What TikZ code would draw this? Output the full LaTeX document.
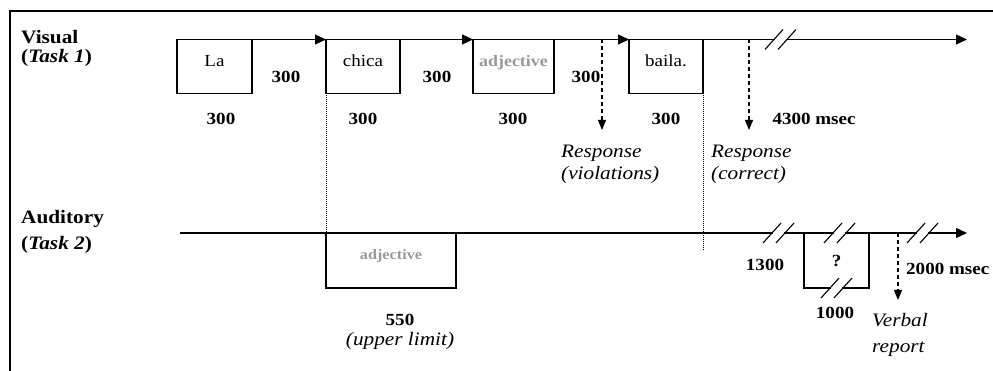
\documentclass[tikz,border=0pt]{standalone}
\usepackage{fontspec}
\setmainfont{Liberation Serif}[FakeStretch=1.12]
\usetikzlibrary{positioning, arrows.meta, calc}
\definecolor{stimgray}{gray}{0.6}
% double slash on a time line
\newcommand{\tcut}[1]{%
  \fill[white] ($(#1)+(-6,-2.5)$) rectangle ($(#1)+(5,2.5)$);
  \draw[cut] ($(#1)+(-16,10)$) -- ($(#1)+(2,-10)$);
  \draw[cut] ($(#1)+(-3,10)$) -- ($(#1)+(15,-10)$);}

\begin{document}
\begin{tikzpicture}[
    x=1pt, y=-1pt,
    stim/.style={draw, line width=1.2pt, inner sep=0pt, outer sep=0pt, anchor=north west, minimum height=54pt, font=\fontsize{17}{19}\selectfont},
    vstim/.style={stim, text height=11pt, text depth=11pt},
    gstim/.style={font=\bfseries\fontsize{16}{18}\selectfont, text=stimgray},
    ms/.style={inner sep=0pt, anchor=base, font=\bfseries\fontsize{17}{19}\selectfont},
    resp/.style={inner sep=0pt, anchor=base west, align=left, font=\itshape\fontsize{19}{22}\selectfont},
    task/.style={inner sep=0pt, anchor=base west, align=left, font=\bfseries\fontsize{19}{19}\selectfont},
    tarrow/.style={line width=1.2pt, -{Triangle[length=11pt, width=10pt]}},
    respar/.style={line width=1.2pt, dash pattern=on 4pt off 3pt, -{Triangle[length=10pt, width=8pt]}},
    sync/.style={line width=0.7pt, dash pattern=on 1pt off 1pt},
    cut/.style={line width=1.1pt}
]
\useasboundingbox (0,0) rectangle (993,371);
\draw[line width=2pt] (10,371) -- (10,11) -- (993,11);

% Visual task
\node[task] (vis) at (21,63) {Visual\\(\textit{Task 1})};
\node[vstim, minimum width=75pt] (la) at (177,39.5) {La};
\node[vstim, minimum width=74pt] (chica) at (326,39.5) {chica};
\node[vstim, gstim, minimum width=81pt] (vadj) at (473,39.5) {adjective};
\node[vstim, minimum width=74pt] (baila) at (629,39.5) {baila.};
\coordinate (vend) at (967,39.5);
\coordinate (vcut) at (781,39.5);

\draw[tarrow] (la.north east) -- (chica.north west);
\draw[tarrow] (chica.north east) -- (vadj.north west);
\draw[tarrow] (vadj.north east) -- (baila.north west);
\draw[tarrow] (baila.north east) -- (vend);
\tcut{vcut}

\node[ms] (isi1) at (286,83) {300};
\node[ms] (isi2) at (437,83) {300};
\node[ms] (isi3) at (586,83) {300};
\node[ms] (dur1) at (221,125) {300};
\node[ms] (dur2) at (363,125) {300};
\node[ms] (dur3) at (513,125) {300};
\node[ms] (dur4) at (666,125) {300};
\node[ms] (vtot) at (814,125) {4300 msec};

% responses
\coordinate (rv) at (602,39.5);
\coordinate (rve) at (602,130);
\coordinate (rc) at (749,39.5);
\coordinate (rce) at (749,130);
\draw[respar] (rv) -- (rve);
\draw[respar] (rc) -- (rce);
\node[resp] (respv) at (561,180) {Response\\(violations)};
\node[resp] (respc) at (711,180) {Response\\(correct)};

% Auditory task
\node[task, font=\bfseries\fontsize{19}{26}\selectfont] (aud) at (21,250) {Auditory\\(\textit{Task 2})};
\coordinate (astart) at (180,233);
\coordinate (aend) at (967,233);
\draw[tarrow] (astart) -- (aend);
\node[stim, gstim, font=\bfseries\fontsize{14.5}{16}\selectfont, minimum width=130pt, minimum height=55pt, text height=10pt, text depth=12pt] (aadj) at (326,233) {adjective};
\node[stim, font=\bfseries\fontsize{17}{19}\selectfont, minimum width=65pt, minimum height=55pt] (query) at (804,233) {?};

\draw[sync] (chica.south west) -- (aadj.north west);
\coordinate (bend) at (703,250);
\draw[sync] (baila.south east) -- (bend);

\coordinate (acut1) at (779,233);
\coordinate (qcut1) at (840,233);
\coordinate (qcut2) at (837,288);
\coordinate (acut2) at (923,233);
\tcut{acut1}
\tcut{qcut1}
\tcut{qcut2}
\tcut{acut2}

\coordinate (vr) at (898,233);
\coordinate (vre) at (898,300);
\draw[respar] (vr) -- (vre);
\node[resp, font=\itshape\fontsize{19}{25}\selectfont] (verbal) at (872,352) {Verbal\\report};

\node[ms] (t1300) at (765,271) {1300};
\node[ms] (t1000) at (835,318) {1000};
\node[ms, anchor=base west] (atot) at (906,275) {2000 msec};
\node[ms, align=center, font=\itshape\fontsize{19}{20}\selectfont] (alim) at (400,345) {{\upshape\bfseries\fontsize{17}{20}\selectfont 550}\\(upper limit)};
\end{tikzpicture}
\end{document}
